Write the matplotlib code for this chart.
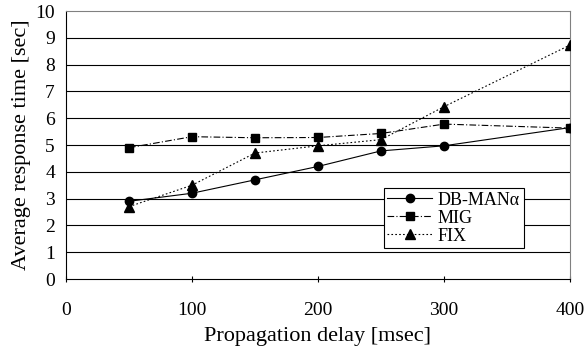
import matplotlib.pyplot as plt

# propagation delay [msec]
delays = [50, 100, 150, 200, 250, 300, 400]

# average response time [sec]
db_man = [2.9, 3.2, 3.7, 4.2, 4.78, 4.97, 5.65]
mig = [4.9, 5.31, 5.27, 5.28, 5.43, 5.78, 5.63]
fix = [2.7, 3.5, 4.7, 4.97, 5.2, 6.43, 8.73]

x_ticks = [0, 100, 200, 300, 400]
y_ticks = list(range(0, 11))

plt.rcParams['font.family'] = ['Liberation Serif', 'DejaVu Serif']

fig = plt.figure(figsize=(5.87, 3.54), dpi=100)
ax = fig.add_axes([66 / 587, 1 - 279 / 354, 504 / 587, 268 / 354])

for y in y_ticks[1:-1]:
    ax.axhline(y, color='black', linewidth=0.8, zorder=1)

ax.plot(delays, db_man, color='black', linestyle='-', linewidth=0.8,
        marker='o', markersize=6, label='DB-MANα', zorder=3)
ax.plot(delays, mig, color='black', linestyle=(0, (6, 2, 1, 2)), linewidth=0.8,
        marker='s', markersize=6, label='MIG', zorder=3)
ax.plot(delays, fix, color='black', linestyle=(0, (1.5, 2)), linewidth=0.8,
        marker='^', markersize=7, label='FIX', zorder=3)

ax.set_xlim(0, 400)
ax.set_ylim(0, 10)
ax.set_xticks(x_ticks)
ax.set_yticks(y_ticks)
ax.tick_params(axis='x', direction='inout', length=5, width=0.8, pad=14, labelsize=14)
ax.tick_params(axis='y', length=0, pad=8, labelsize=14)

for side in ['top', 'right']:
    ax.spines[side].set_color('#808080')
for side in ['left', 'bottom']:
    ax.spines[side].set_color('black')
for s in ax.spines.values():
    s.set_linewidth(0.8)

ax.set_xlabel('Propagation delay [msec]', fontsize=16, labelpad=6)
ax.set_ylabel('Average response time [sec]', fontsize=16, labelpad=3)

leg = ax.legend(loc='lower right', bbox_to_anchor=(0.908, 0.115), fontsize=13,
                frameon=True, fancybox=False, edgecolor='black', framealpha=1,
                handlelength=2.5, handletextpad=0.3, borderpad=0.2,
                labelspacing=0.05, borderaxespad=0)
leg.get_frame().set_linewidth(0.8)

fig.savefig('out.png', dpi=100)
